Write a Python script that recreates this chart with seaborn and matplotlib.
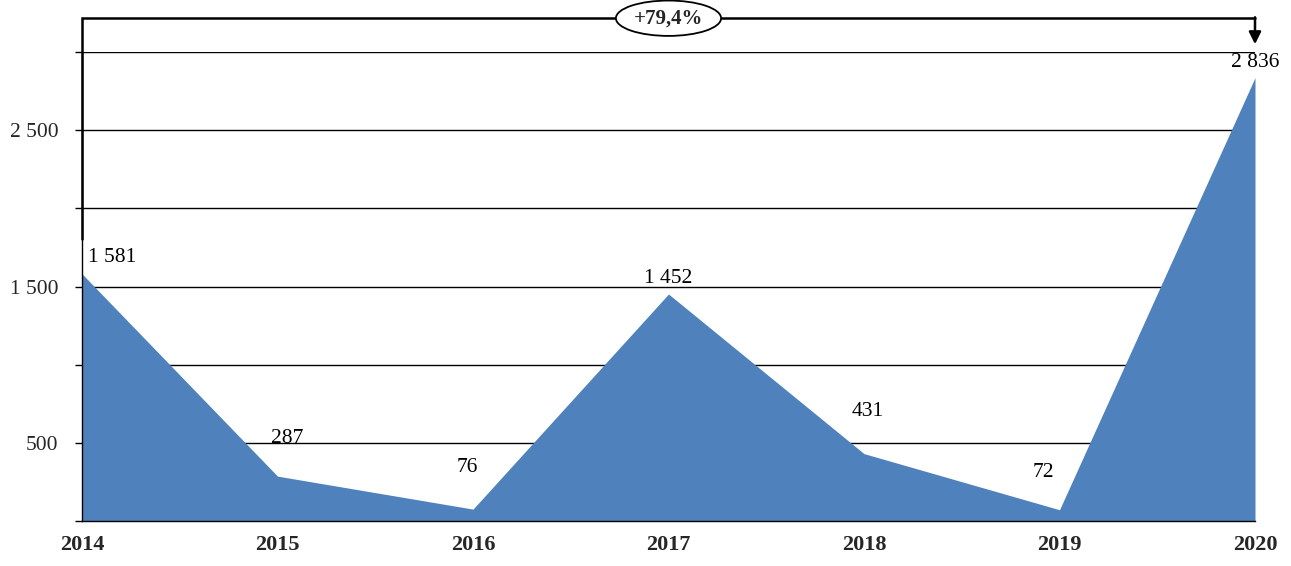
import matplotlib
matplotlib.use("Agg")
import matplotlib.pyplot as plt
import seaborn as sns
import pandas as pd

# data
years = ["2014", "2015", "2016", "2017", "2018", "2019", "2020"]
values = [1581, 287, 76, 1452, 431, 72, 2836]
ytick_values = [0, 500, 1000, 1500, 2000, 2500, 3000]
ytick_shown = [500, 1500, 2500]
change_label = "+79,4%"

# label offsets in pixels (dx, dy) relative to each point
label_offsets = [(30, 16), (10, 38), (-6, 42), (0, 16), (4, 42), (-16, 37), (0, 15)]

FILL = "#4F81BD"


def fmt(v):
    return f"{v:,}".replace(",", " ")


def build_frame():
    df = pd.DataFrame({"year": years, "value": values})
    df["pos"] = range(len(df))
    return df


def plot_area(df):
    sns.set_theme(style="white")
    plt.rcParams["font.family"] = ["Liberation Serif", "DejaVu Serif"]

    fig = plt.figure(figsize=(12.91, 5.66), dpi=100)
    ax = fig.add_axes([82 / 1291, 1 - 521 / 566, (1255 - 82) / 1291, (521 - 52) / 566])

    sns.lineplot(data=df, x="pos", y="value", color=FILL, linewidth=0, ax=ax)
    ax.fill_between(df["pos"], df["value"], 0, color=FILL, linewidth=0, zorder=2)

    ax.set_xlim(0, len(df) - 1)
    ax.set_ylim(0, 3000)
    ax.set_xticks(df["pos"])
    ax.set_xticklabels(years, fontweight="bold", fontsize=16)
    ax.set_yticks(ytick_values)
    ax.set_yticklabels([fmt(v) if v in ytick_shown else "" for v in ytick_values], fontsize=15.5)
    ax.set_xlabel("")
    ax.set_ylabel("")

    for y in ytick_values[1:]:
        ax.axhline(y, color="black", linewidth=1, zorder=1)

    for side in ["top", "right"]:
        ax.spines[side].set_visible(False)
    for side in ["left", "bottom"]:
        ax.spines[side].set_color("black")
        ax.spines[side].set_linewidth(1)
        ax.spines[side].set_zorder(3)
    ax.tick_params(axis="y", which="both", left=True, length=5, width=1, color="black", pad=12)
    ax.tick_params(axis="x", bottom=False, pad=4)

    # value labels
    for (x, v), (dx, dy) in zip(zip(df["pos"], df["value"]), label_offsets):
        ax.annotate(fmt(v), xy=(x, v), xytext=(dx, dy), textcoords="offset pixels",
                    ha="center", va="center", fontsize=15.5, color="black", zorder=4)

    # bracket with growth label
    top_y = 3216
    ax.plot([0, 0, len(df) - 1], [1803, top_y, top_y], color="black", linewidth=1.8,
            clip_on=False, zorder=4, solid_joinstyle="miter")
    ax.annotate("", xy=(len(df) - 1, 3050), xytext=(len(df) - 1, top_y + 6),
                arrowprops=dict(arrowstyle="-|>,head_length=0.6,head_width=0.3",
                                color="black", lw=1.8, shrinkA=0, shrinkB=0),
                annotation_clip=False, zorder=4)
    ax.text(3, top_y, change_label, ha="center", va="center", fontsize=15,
            fontweight="bold", zorder=5, clip_on=False,
            bbox=dict(boxstyle="ellipse,pad=0.12", fc="white", ec="black", lw=1.3))

    fig.savefig("out.png", dpi=100)
    plt.close(fig)


plot_area(build_frame())
